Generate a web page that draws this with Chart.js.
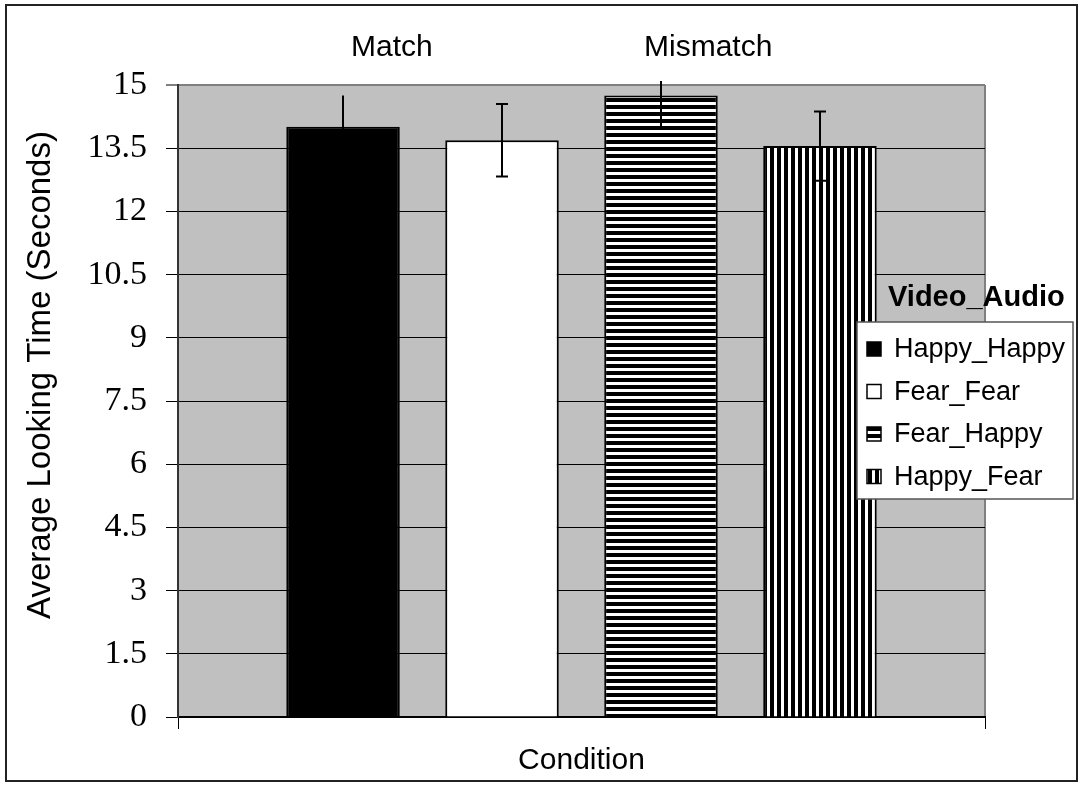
<!DOCTYPE html>
<html>
<head>
<meta charset="utf-8">
<script src="https://cdn.jsdelivr.net/npm/chart.js@4/dist/chart.umd.min.js"></script>
<style>
  body { margin: 0; background: #fff; }
  canvas { display: block; }
</style>
</head>
<body>
<canvas id="chart" width="1083" height="787"></canvas>
<script>
// data
const categories = [''];
const seriesNames = ['Happy_Happy', 'Fear_Fear', 'Fear_Happy', 'Happy_Fear'];
const meanTimes = [14.01, 13.69, 14.75, 13.55];
const errTimes = [0.74, 0.86, 0.75, 0.82];
const yTicks = [0, 1.5, 3, 4.5, 6, 7.5, 9, 10.5, 12, 13.5, 15];
const groupLabels = ['Match', 'Mismatch'];
const legendTitle = 'Video_Audio';
const yTitle = 'Average Looking Time (Seconds)';

const SANS = 'Arial, "Liberation Sans", sans-serif';
const SERIF = '"Times New Roman", "Liberation Serif", serif';

function stripes(horizontal) {
    const c = document.createElement('canvas');
    c.width = horizontal ? 1 : 7;
    c.height = horizontal ? 7 : 1;
    const g = c.getContext('2d');
    g.fillStyle = '#fff';
    g.fillRect(0, 0, c.width, c.height);
    g.fillStyle = '#000';
    if (horizontal) g.fillRect(0, 0, 1, 4);
    else g.fillRect(0, 0, 4, 1);
    return g.createPattern(c, 'repeat');
}

const fills = ['#000', '#fff', stripes(true), stripes(false)];

const datasets = seriesNames.map((name, i) => ({
    label: name,
    data: [meanTimes[i]],
    err: errTimes[i],
    capTop: i !== 0,
    backgroundColor: fills[i],
    borderColor: '#000',
    borderWidth: 2,
    categoryPercentage: 0.788,
    barPercentage: 0.714
}));

const framePlugin = {
    id: 'frame',
    beforeDraw(chart) {
        const {ctx, chartArea: a} = chart;
        ctx.save();
        ctx.fillStyle = '#fff';
        ctx.fillRect(0, 0, chart.width, chart.height);
        ctx.fillStyle = '#c0c0c0';
        ctx.fillRect(a.left, a.top, a.right - a.left, a.bottom - a.top);
        ctx.strokeStyle = '#808080';
        ctx.lineWidth = 2;
        ctx.beginPath();
        ctx.moveTo(a.right, a.top);
        ctx.lineTo(a.right, a.bottom);
        ctx.stroke();
        ctx.strokeStyle = '#222';
        ctx.strokeRect(6, 5, 1071, 776);
        ctx.restore();
    },
    afterDatasetsDraw(chart) {
        const {ctx, chartArea: a} = chart;
        const y = chart.scales.y;
        ctx.save();
        ctx.strokeStyle = '#000';
        ctx.lineWidth = 2;
        chart.data.datasets.forEach((ds, i) => {
            const bar = chart.getDatasetMeta(i).data[0];
            const v = ds.data[0];
            const top = Math.max(y.getPixelForValue(v + ds.err), a.top - 4);
            const bot = y.getPixelForValue(v - ds.err);
            const x = Math.round(bar.x);
            ctx.beginPath();
            ctx.moveTo(x, top);
            ctx.lineTo(x, bot);
            ctx.moveTo(x - 6, bot);
            ctx.lineTo(x + 6, bot);
            if (ds.capTop && top > a.top) {
                ctx.moveTo(x - 6, top);
                ctx.lineTo(x + 6, top);
            }
            ctx.stroke();
        });
        ctx.restore();
    },
    afterDraw(chart) {
        const {ctx, chartArea: a} = chart;
        const w = a.right - a.left;
        ctx.save();
        ctx.fillStyle = '#000';
        ctx.textBaseline = 'middle';

        // y axis title
        ctx.save();
        ctx.translate(41, 375);
        ctx.rotate(-Math.PI / 2);
        ctx.textAlign = 'center';
        ctx.font = '33px ' + SANS;
        ctx.fillText(yTitle, 0, 0);
        ctx.restore();

        // group labels above the bars
        ctx.font = '30px ' + SANS;
        ctx.textAlign = 'center';
        const pos = [0.265, 0.657];
        groupLabels.forEach((t, i) => ctx.fillText(t, a.left + pos[i] * w, 48));

        // legend
        ctx.textAlign = 'left';
        ctx.font = 'bold 29px ' + SANS;
        ctx.fillText(legendTitle, 888, 298);
        ctx.fillStyle = '#fff';
        ctx.fillRect(857, 322, 216, 177);
        ctx.strokeStyle = '#555';
        ctx.lineWidth = 1.5;
        ctx.strokeRect(857, 322, 216, 177);
        ctx.font = '27px ' + SANS;
        chart.data.datasets.forEach((ds, i) => {
            const cy = 349 + i * 42.5;
            ctx.fillStyle = ds.backgroundColor;
            ctx.fillRect(867, cy - 7, 14, 14);
            ctx.strokeStyle = '#000';
            ctx.lineWidth = 1.5;
            ctx.strokeRect(867, cy - 7, 14, 14);
            ctx.fillStyle = '#000';
            ctx.fillText(ds.label, 894, cy + 1);
        });
        ctx.restore();
    }
};

new Chart(document.getElementById('chart'), {
    type: 'bar',
    data: { labels: categories, datasets: datasets },
    plugins: [framePlugin],
    options: {
        responsive: false,
        animation: false,
        devicePixelRatio: 1,
        layout: { padding: { top: 85, right: 98, left: 0, bottom: 0 } },
        plugins: { legend: { display: false }, tooltip: { enabled: false } },
        scales: {
            x: {
                offset: true,
                afterFit: s => { s.height = 70; },
                grid: { offset: true, drawOnChartArea: false, tickLength: 12, color: '#000', lineWidth: 1 },
                border: { color: '#000', width: 2 },
                ticks: { display: false },
                title: {
                    display: true, text: 'Condition', color: '#000',
                    font: { family: SANS, size: 30 }, padding: { bottom: 8 }
                }
            },
            y: {
                min: 0,
                max: 15,
                afterFit: s => { s.width = 178; },
                afterBuildTicks: s => { s.ticks = yTicks.map(v => ({ value: v })); },
                grid: {
                    color: c => (c.tick && c.tick.value === 15 ? '#808080' : '#000'),
                    lineWidth: c => (c.tick && c.tick.value === 15 ? 2 : 1),
                    tickLength: 12
                },
                border: { color: '#333', width: 2 },
                ticks: {
                    color: '#000', padding: 19,
                    font: { family: SERIF, size: 34 },
                    callback: v => String(v)
                }
            }
        }
    }
});
</script>
</body>
</html>
